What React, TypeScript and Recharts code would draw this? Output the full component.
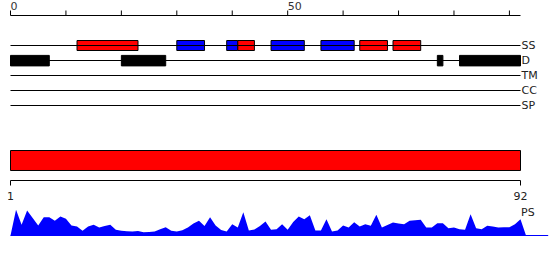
import React from 'react';
import {
  ComposedChart,
  AreaChart,
  Area,
  Line,
  XAxis,
  YAxis,
  ReferenceArea,
} from 'recharts';

// ---- data ----
const positionTicks = [0, 10, 20, 30, 40, 50, 60, 70, 80, 90];
const positionTickLabels = [0, 50];
const sequenceLength = 92;
const residueTicks = [1, 92];
const trackNames = ['SS', 'D', 'TM', 'CC', 'SP'];

// secondary structure segments: helix = red, strand = blue
const ssSegments = [
  { start: 12, end: 23, type: 'helix' },
  { start: 30, end: 35, type: 'strand' },
  { start: 39, end: 41, type: 'strand' },
  { start: 41, end: 44, type: 'helix' },
  { start: 47, end: 53, type: 'strand' },
  { start: 56, end: 62, type: 'strand' },
  { start: 63, end: 68, type: 'helix' },
  { start: 69, end: 74, type: 'helix' },
];

// disordered regions
const disorderSegments = [
  { start: 0, end: 7 },
  { start: 20, end: 28 },
  { start: 77, end: 78 },
  { start: 81, end: 92 },
];

// full-length domain bar
const domainSegments = [{ start: 1, end: 92 }];

// PS profile values (position 0..93)
const psValues = [
  0, 25.7, 10.7, 25, 17.5, 10, 18.3, 18.3, 14.7, 19,
  16.7, 10, 9, 4.7, 9, 10.7, 8, 9.5, 10.7, 5.7,
  4.7, 4.3, 4, 4.5, 3.3, 3.6, 4, 6.2, 8.3, 4.7,
  4, 5.3, 8, 12, 14.7, 9.5, 18.3, 10, 5.5, 4,
  11.3, 8, 23.3, 5, 6, 9.6, 14, 5.7, 6.3, 11.3,
  5.7, 13.5, 19, 16.3, 20.3, 5, 5, 16.3, 4, 5,
  10, 8, 13.3, 9, 11.3, 9.7, 20.7, 8, 10.5, 13,
  12, 11.3, 14.7, 15.2, 15.7, 8, 8, 12.3, 12.3, 7.3,
  8, 6.3, 5.7, 21.3, 7.3, 6.3, 9.7, 9, 8, 8.2,
  8.3, 11.3, 16.3, 0,
];

const ssColors: Record<string, string> = { helix: '#ff0000', strand: '#0000ff' };

const trackRow = (name: string) => trackNames.indexOf(name) + 2;

// endpoints of the track lines (sequence start and end)
const trackData = [
  { pos: 0, res: 1 },
  { pos: sequenceLength, res: sequenceLength },
];

const psData = psValues.map((v, i) => ({ pos: i, ps: v }));

const FONT = '"DejaVu Sans", Verdana, sans-serif';

const TopTick = (props: any) => {
  const { x, y, payload } = props;
  if (!positionTickLabels.includes(payload.value)) return <g />;
  return (
    <text x={x} y={y} textAnchor="start" fontSize={11} fill="#333" fontFamily={FONT}>
      {payload.value}
    </text>
  );
};

export default function App() {
  const ssRow = trackRow('SS');
  const dRow = trackRow('D');
  return (
    <div
      style={{
        position: 'absolute',
        left: 0,
        top: 0,
        width: 550,
        height: 260,
        background: '#fff',
        fontFamily: FONT,
      }}
    >
      <div style={{ position: 'absolute', left: 0, top: 0 }}>
        <ComposedChart
          width={550}
          height={206}
          data={trackData}
          margin={{ top: 0.5, right: 0, bottom: 0.5, left: 10.5 }}
        >
          <XAxis
            xAxisId="pos"
            dataKey="pos"
            orientation="top"
            type="number"
            domain={[0, sequenceLength]}
            ticks={positionTicks}
            interval={0}
            height={15}
            tickSize={5}
            tickMargin={1}
            axisLine={{ stroke: '#000' }}
            tickLine={{ stroke: '#000' }}
            tick={TopTick}
          />
          <XAxis
            xAxisId="res"
            dataKey="res"
            orientation="bottom"
            type="number"
            domain={[1, sequenceLength]}
            ticks={residueTicks}
            interval={0}
            height={25}
            tickSize={5}
            tickMargin={7}
            axisLine={{ stroke: '#000' }}
            tickLine={{ stroke: '#000' }}
            tick={{ fill: '#222', fontSize: 11, fontFamily: FONT }}
          />
          <YAxis
            orientation="right"
            type="number"
            domain={[0, 11]}
            reversed
            width={29.5}
            ticks={trackNames.map((n) => trackRow(n))}
            interval={0}
            tickFormatter={(v: number) => trackNames[v - 2] ?? ''}
            axisLine={false}
            tickLine={false}
            tickSize={0}
            tickMargin={1}
            tick={{ fill: '#222', fontSize: 11, fontFamily: FONT, textAnchor: 'start' }}
          />
          {trackNames.map((n) => (
            <Line
              key={n}
              xAxisId="pos"
              dataKey={() => trackRow(n)}
              stroke="#000"
              strokeWidth={1}
              dot={false}
              activeDot={false}
              isAnimationActive={false}
            />
          ))}
          <Line
            xAxisId="res"
            dataKey={() => 0}
            stroke="none"
            dot={false}
            activeDot={false}
            isAnimationActive={false}
          />
          {ssSegments.map((s, i) => (
            <ReferenceArea
              key={'ss' + i}
              xAxisId="pos"
              x1={s.start}
              x2={s.end}
              y1={ssRow - 1 / 3}
              y2={ssRow + 1 / 3}
              fill={ssColors[s.type]}
              fillOpacity={1}
              stroke="#000"
              strokeWidth={1}
            />
          ))}
          {disorderSegments.map((s, i) => (
            <ReferenceArea
              key={'d' + i}
              xAxisId="pos"
              x1={s.start}
              x2={s.end}
              y1={dRow - 0.34}
              y2={dRow + 0.36}
              fill="#000"
              fillOpacity={1}
              stroke="#000"
              strokeWidth={1}
            />
          ))}
          {domainSegments.map((s, i) => (
            <ReferenceArea
              key={'dom' + i}
              xAxisId="res"
              x1={s.start}
              x2={s.end}
              y1={9}
              y2={10.3333}
              fill="#ff0000"
              fillOpacity={1}
              stroke="#000"
              strokeWidth={1}
            />
          ))}
        </ComposedChart>
      </div>
      <div style={{ position: 'absolute', left: 0, top: 205 }}>
        <AreaChart
          width={550}
          height={32}
          data={psData}
          margin={{ top: 0.5, right: 1.8, bottom: 0.5, left: 10.5 }}
        >
          <XAxis
            dataKey="pos"
            type="number"
            domain={[0, 97]}
            height={1}
            tick={false}
            tickLine={false}
            axisLine={{ stroke: '#0000ff' }}
          />
          <YAxis type="number" domain={[0, 30]} hide />
          <Area
            type="linear"
            dataKey="ps"
            fill="#0000ff"
            fillOpacity={1}
            stroke="none"
            isAnimationActive={false}
          />
        </AreaChart>
      </div>
      <svg
        width={550}
        height={260}
        style={{ position: 'absolute', left: 0, top: 0, pointerEvents: 'none' }}
      >
        <text x={521} y={215.5} fontSize={11} fill="#222" fontFamily={FONT}>
          PS
        </text>
      </svg>
    </div>
  );
}
